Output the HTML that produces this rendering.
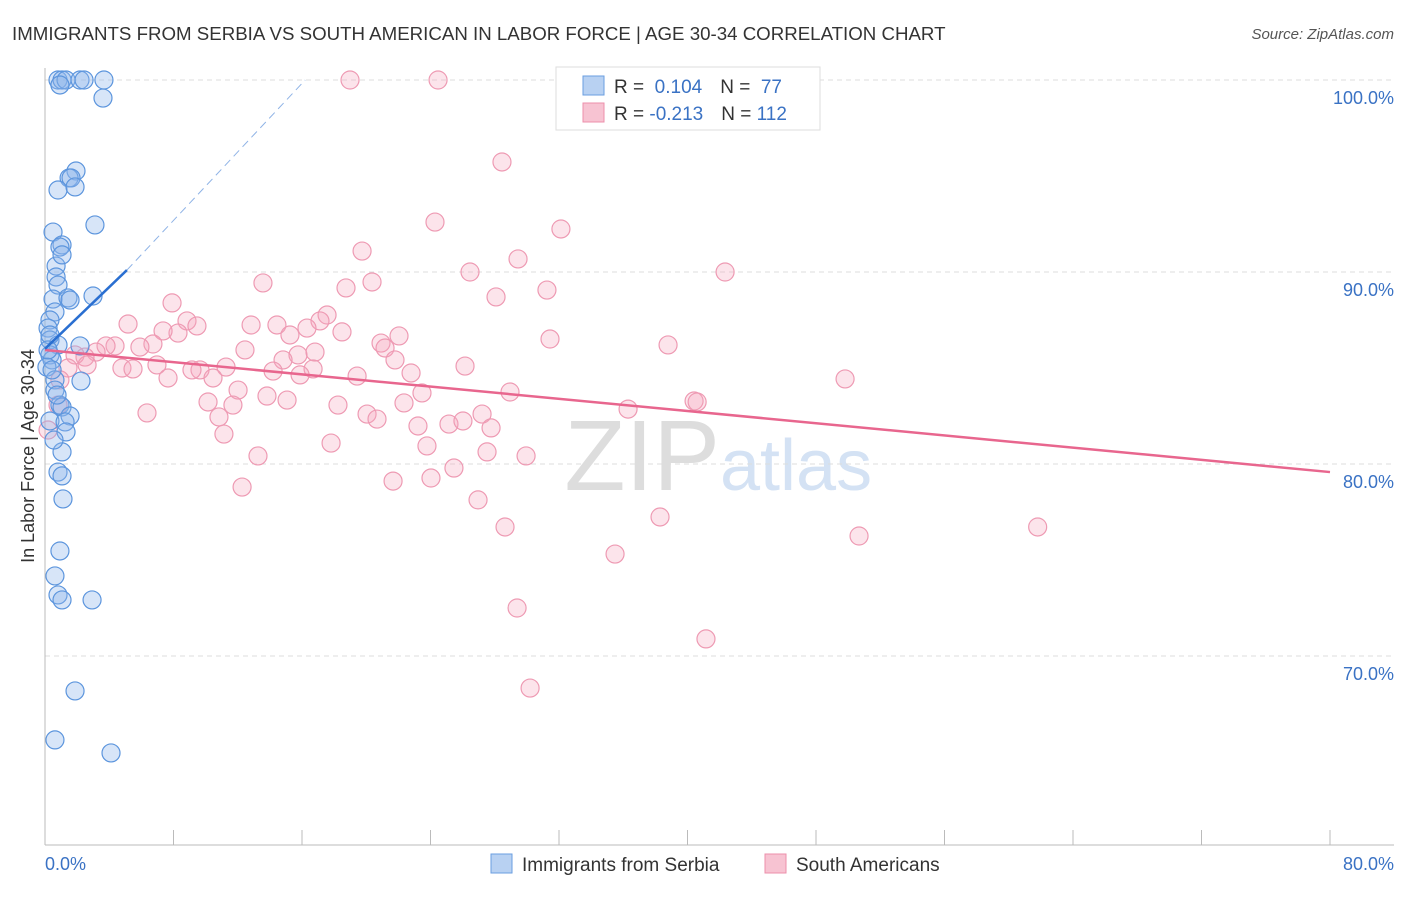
<!DOCTYPE html>
<html><head><meta charset="utf-8"><style>
body{margin:0;background:#fff;font-family:"Liberation Sans",sans-serif}
svg text{font-family:"Liberation Sans",sans-serif}
</style></head><body>
<svg id="c" width="1406" height="892">
<text x="12" y="40" font-size="18.7" fill="#333">IMMIGRANTS FROM SERBIA VS SOUTH AMERICAN IN LABOR FORCE | AGE 30-34 CORRELATION CHART</text>
<text x="1394" y="39" font-size="15" fill="#555" font-style="italic" text-anchor="end">Source: ZipAtlas.com</text>
<text x="720" y="490" font-size="100" fill="#ddd" text-anchor="end" font-family="Liberation Serif">ZIP</text>
<text x="720" y="490" font-size="72" fill="#d4e2f4">atlas</text>
<g id="grid"></g><g id="axes"></g><g id="pts"></g><g id="lines"></g>
<text transform="translate(34,456) rotate(-90)" font-size="18" fill="#333" text-anchor="middle">In Labor Force | Age 30-34</text>
<text x="45" y="870" font-size="18" fill="#3a72c4">0.0%</text>
<text x="1394" y="870" font-size="18" fill="#3a72c4" text-anchor="end">80.0%</text>
<g>
<rect x="556" y="67" width="264" height="63" fill="#fff" stroke="#ddd"/>
<rect x="583" y="76" width="21" height="19" fill="#b8d1f2" stroke="#6a9ee0"/>
<rect x="583" y="103" width="21" height="19" fill="#f7c3d2" stroke="#ec8fab"/>
<text x="614" y="93" font-size="19" fill="#333">R = <tspan fill="#3a72c4">&#160;0.104</tspan><tspan dx="18">N = </tspan><tspan fill="#3a72c4">&#160;77</tspan></text>
<text x="614" y="120" font-size="19" fill="#333">R = <tspan fill="#3a72c4">-0.213</tspan><tspan dx="18">N = </tspan><tspan fill="#3a72c4">112</tspan></text>
</g>
<g>
<rect x="491" y="854" width="21" height="19" fill="#b8d1f2" stroke="#6a9ee0"/>
<text x="522" y="871" font-size="19" fill="#333">Immigrants from Serbia</text>
<rect x="765" y="854" width="21" height="19" fill="#f7c3d2" stroke="#ec8fab"/>
<text x="796" y="871" font-size="19" fill="#333">South Americans</text>
</g>
</svg>
<script>
const yTicks=[100,90,80,70];
const blueX=[0.81,1.06,1.31,2.18,2.43,3.67,3.61,1.93,1.5,1.62,0.81,1.87,3.11,0.5,1.06,0.93,0.69,0.69,1.06,0.81,0.5,1.43,2.99,1.56,0.62,0.31,0.19,0.31,0.81,2.18,0.31,0.44,0.12,0.62,2.24,0.62,0.93,1.06,1.56,0.31,1.25,1.31,1.06,0.81,1.06,1.12,0.93,0.62,0.81,1.06,2.93,1.87,0.62,4.11,0.93,0.31,0.19,0.44,0.75,0.56];
const blueY=[100,100,100,100,100,100,99.06,95.26,94.9,94.9,94.27,94.43,92.45,92.08,91.41,91.3,90.31,89.74,90.89,89.32,88.59,88.65,88.75,88.54,87.92,87.5,87.08,86.46,86.2,86.15,85.68,85.42,85.05,84.38,84.32,83.85,83.07,82.97,82.5,82.24,82.19,81.67,80.63,79.58,79.38,78.18,75.47,74.17,73.18,72.92,72.92,68.18,65.63,64.95,99.74,86.72,85.94,84.9,83.59,81.25];
const pinkX=[18.99,24.47,32.56,28.45,24.28,32.12,19.74,29.45,26.46,42.34,13.57,20.36,31.25,18.74,28.08,7.91,17.56,8.84,5.17,12.83,9.46,14.44,17.12,16.31,15.25,18.49,22.04,31.44,38.79,8.28,7.35,6.72,20.92,21.17,12.45,15.75,5.91,4.36,3.8,3.18,2.49,14.82,16.81,21.79,26.15,6.97,4.79,5.48,14.2,16.69,9.65,9.15,11.27,22.79,15.88,19.43,10.46,7.66,49.81,12.02,13.82,23.47,28.95,15.07,10.15,11.7,22.35,36.3,40.41,40.6,6.35,10.83,18.24,20.05,20.67,25.15,26.02,27.21,27.77,23.22,11.14,17.81,23.78,13.26,27.52,29.95,25.46,12.27,21.67,24.03,26.96,28.64,38.29,50.68,61.8,35.49,29.39,41.15,30.2,1.87,1.43,0.93,0.19,0.81,2.62];
const pinkY=[100,100,100,95.73,92.6,92.24,91.09,90.68,90,90,89.43,89.48,89.06,89.17,88.7,88.39,87.76,87.45,87.29,87.24,87.19,87.24,87.45,87.08,86.72,86.88,86.67,86.51,86.2,86.82,86.93,86.25,86.3,86.04,85.94,85.68,86.09,86.15,86.15,85.83,85.57,85.42,85.83,85.42,85.1,85.16,85,84.95,84.84,84.95,84.9,84.9,85.05,84.74,84.64,84.58,84.48,84.48,84.43,83.85,83.54,83.7,83.75,83.33,83.23,83.07,83.18,82.86,83.28,83.23,82.66,82.45,83.07,82.6,82.34,82.08,82.24,82.6,81.88,81.98,81.56,81.09,80.94,80.42,80.63,80.42,79.79,78.8,79.11,79.27,78.13,76.72,77.24,76.25,76.72,75.31,72.5,70.89,68.33,85.68,85,84.38,81.77,83.07,85.16];
const blueTrend=[[0,86.0],[5.1,90.1]];
const blueDash=[[5.1,90.1],[16.2,100]];
const pinkTrend=[[0,85.94],[80,79.58]];
const NS="http://www.w3.org/2000/svg";
const X=v=>45+v/80*1285, Y=v=>80+(100-v)*19.2;
function mk(t,a,p){const e=document.createElementNS(NS,t);for(const k in a)e.setAttribute(k,a[k]);p.appendChild(e);return e;}
const grid=document.getElementById('grid'),axes=document.getElementById('axes');
yTicks.forEach(t=>{
 const l=mk('line',{x1:45,x2:1394,y1:Y(t),y2:Y(t),stroke:'#ddd','stroke-dasharray':'5,4'},grid);
 
 
 const tx=mk('text',{x:1394,y:Y(t)+24,'font-size':18,fill:'#3a72c4','text-anchor':'end'},grid);
 tx.textContent=t.toFixed(1)+'%';
 
 
});
const xa=mk('line',{x1:45,x2:1394,y1:845,y2:845,stroke:'#bbb'},axes);


const ya=mk('line',{x1:45,x2:45,y1:68,y2:845,stroke:'#bbb'},axes);


for(let i=0;i<=10;i++){const t=mk('line',{x1:X(i*8),x2:X(i*8),y1:830,y2:845,stroke:'#bbb'},axes);
 
 }
const pts=document.getElementById('pts');
pinkX.forEach((x,i)=>{const c=mk('circle',{cx:X(x),cy:Y(pinkY[i]),r:9,fill:'rgba(244,165,190,0.3)',stroke:'#ee9ab3','stroke-width':1.2},pts);
 
 });
blueX.forEach((x,i)=>{const c=mk('circle',{cx:X(x),cy:Y(blueY[i]),r:9,fill:'rgba(140,180,235,0.35)',stroke:'#5c95dd','stroke-width':1.2},pts);
 
 });
const L=document.getElementById('lines');
const l1=mk('line',{x1:X(pinkTrend[0][0]),y1:Y(pinkTrend[0][1]),x2:X(pinkTrend[1][0]),y2:Y(pinkTrend[1][1]),stroke:'#e8668e','stroke-width':2.5},L);


const l2=mk('line',{x1:X(blueTrend[0][0]),y1:Y(blueTrend[0][1]),x2:X(blueTrend[1][0]),y2:Y(blueTrend[1][1]),stroke:'#2a6fd1','stroke-width':2.5},L);


const l3=mk('line',{x1:X(blueDash[0][0]),y1:Y(blueDash[0][1]),x2:X(blueDash[1][0]),y2:Y(blueDash[1][1]),stroke:'#8fb3e6','stroke-width':1,'stroke-dasharray':'8,5'},L);


</script>
</body></html>
